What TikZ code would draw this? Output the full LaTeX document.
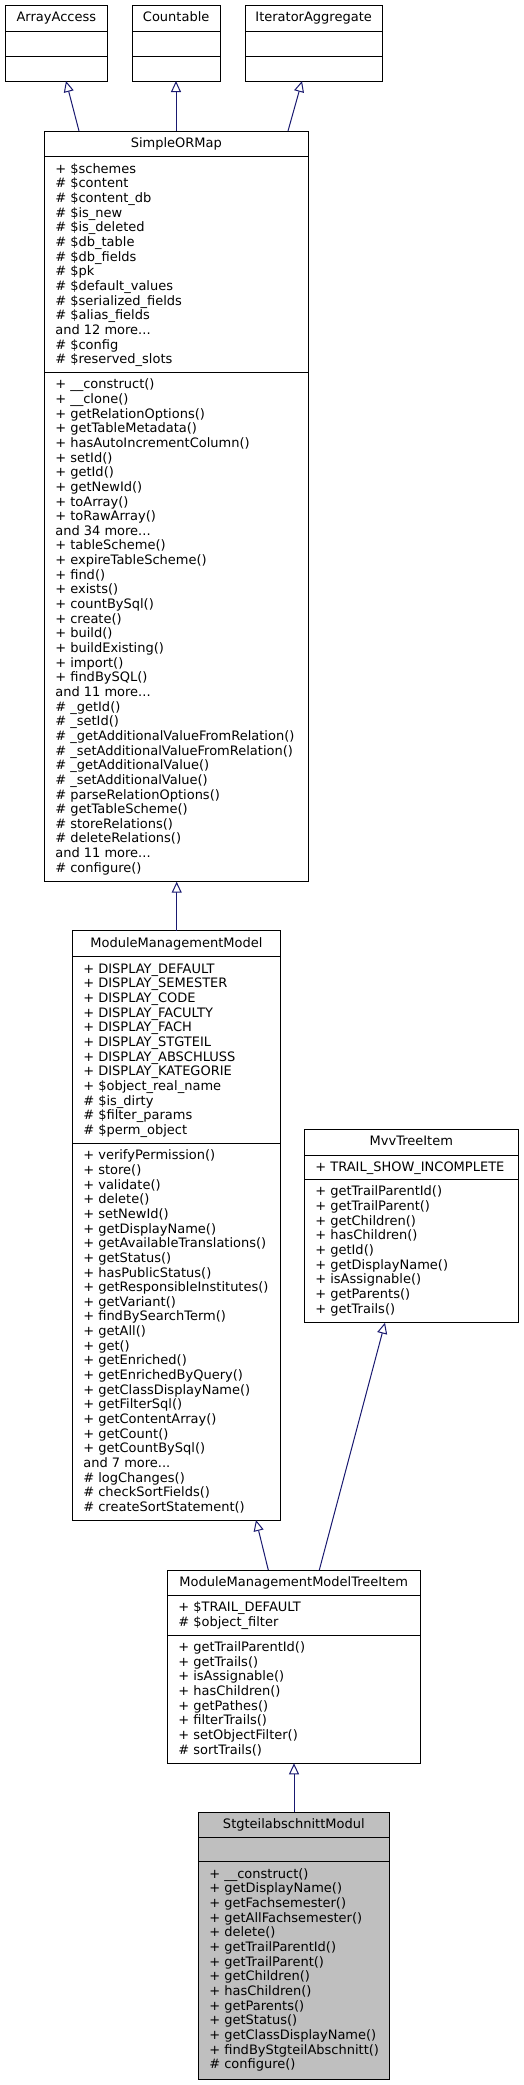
\documentclass[tikz,border=0pt]{standalone}
\usepackage{fontspec}
\setmainfont{DejaVu Sans}
\usetikzlibrary{arrows.meta}
\definecolor{edgeblue}{HTML}{191970}
\definecolor{boxgrey}{HTML}{BFBFBF}
\newcommand{\threedots}{...}
\tikzset{
  boxline/.style={draw=black, line width=0.9pt},
  txt/.style={anchor=base west, inner sep=0pt, font=\fontsize{13}{14.65}\selectfont},
  ttl/.style={anchor=base, inner sep=0pt, font=\fontsize{13}{14.65}\selectfont},
  inherit/.style={draw=edgeblue, line width=1pt, -{Triangle[open, length=11pt, width=10pt, fill=white]}},
}
% #1 name, #2 left, #3 right, #4 top, #5 div1, #6 div2, #7 bottom, #8 fill, #9 title
\newcommand{\classbox}[9]{%
  \node[boxline, fill=#8, anchor=north west, inner sep=0pt, outer sep=0pt,
        minimum width={(#3-#2)*1pt}, minimum height={(#7-#4)*1pt}] (#1) at (#2,#4) {};
  \draw[boxline] (#2,#5) -- (#3,#5);
  \draw[boxline] (#2,#6) -- (#3,#6);
  \node[ttl] (#1-title) at ({(#2+#3)/2},{#4+16.5}) {#9};
}
% #1 prefix, #2 left, #3 top, #4 list
\newcommand{\seclines}[4]{%
  \foreach \t [count=\i from 0] in {#4} {
    \node[txt] (#1\i) at ({#2+10.8},{#3+16.5+\i*14.65}) {\t};
  }
}
\begin{document}
\begin{tikzpicture}[x=1pt, y=-1pt]
\useasboundingbox (0,0) rectangle (523,2085);

% top interfaces
\classbox{aa}{5}{107.7}{5}{31.3}{56.7}{81}{white}{ArrayAccess}
\classbox{cnt}{132.3}{220}{5}{31.3}{56.7}{81}{white}{Countable}
\classbox{ia}{245}{382.3}{5}{31.3}{56.7}{81}{white}{IteratorAggregate}

% SimpleORMap
\classbox{som}{44.3}{308.3}{131}{156.7}{372.3}{881.7}{white}{SimpleORMap}
\seclines{soma}{44.3}{156.7}{+ \$schemes, \# \$content, \# \$content\_db, \# \$is\_new, \# \$is\_deleted, \# \$db\_table, \# \$db\_fields, \# \$pk, \# \$default\_values, \# \$serialized\_fields, \# \$alias\_fields, and 12 more\threedots, \# \$config, \# \$reserved\_slots}
\seclines{somm}{44.3}{372.3}{+ \_\_construct(), + \_\_clone(), + getRelationOptions(), + getTableMetadata(), + hasAutoIncrementColumn(), + setId(), + getId(), + getNewId(), + toArray(), + toRawArray(), and 34 more\threedots, + tableScheme(), + expireTableScheme(), + find(), + exists(), + countBySql(), + create(), + build(), + buildExisting(), + import(), + findBySQL(), and 11 more\threedots, \# \_getId(), \# \_setId(), \# \_getAdditionalValueFromRelation(), \# \_setAdditionalValueFromRelation(), \# \_getAdditionalValue(), \# \_setAdditionalValue(), \# parseRelationOptions(), \# getTableScheme(), \# storeRelations(), \# deleteRelations(), and 11 more\threedots, \# configure()}

% ModuleManagementModel
\classbox{mmm}{72.3}{280.5}{930.7}{956.7}{1143.3}{1520}{white}{ModuleManagementModel}
\seclines{mmma}{72.3}{956.7}{+ DISPLAY\_DEFAULT, + DISPLAY\_SEMESTER, + DISPLAY\_CODE, + DISPLAY\_FACULTY, + DISPLAY\_FACH, + DISPLAY\_STGTEIL, + DISPLAY\_ABSCHLUSS, + DISPLAY\_KATEGORIE, + \$object\_real\_name, \# \$is\_dirty, \# \$filter\_params, \# \$perm\_object}
\seclines{mmmm}{72.3}{1143.3}{+ verifyPermission(), + store(), + validate(), + delete(), + setNewId(), + getDisplayName(), + getAvailableTranslations(), + getStatus(), + hasPublicStatus(), + getResponsibleInstitutes(), + getVariant(), + findBySearchTerm(), + getAll(), + get(), + getEnriched(), + getEnrichedByQuery(), + getClassDisplayName(), + getFilterSql(), + getContentArray(), + getCount(), + getCountBySql(), and 7 more\threedots, \# logChanges(), \# checkSortFields(), \# createSortStatement()}

% MvvTreeItem
\classbox{mvv}{304.3}{518.3}{1129.3}{1155}{1179.3}{1322.7}{white}{MvvTreeItem}
\seclines{mvva}{304.3}{1155}{+ TRAIL\_SHOW\_INCOMPLETE}
\seclines{mvvm}{304.3}{1179.3}{+ getTrailParentId(), + getTrailParent(), + getChildren(), + hasChildren(), + getId(), + getDisplayName(), + isAssignable(), + getParents(), + getTrails()}

% ModuleManagementModelTreeItem
\classbox{mti}{167.3}{420}{1570}{1595}{1635}{1763.3}{white}{ModuleManagementModelTreeItem}
\seclines{mtia}{167.3}{1595}{+ \$TRAIL\_DEFAULT, \# \$object\_filter}
\seclines{mtim}{167.3}{1635}{+ getTrailParentId(), + getTrails(), + isAssignable(), + hasChildren(), + getPathes(), + filterTrails(), + setObjectFilter(), \# sortTrails()}

% StgteilabschnittModul
\classbox{stg}{198.3}{389.3}{1812.3}{1837.3}{1861.7}{2079}{boxgrey}{StgteilabschnittModul}
\seclines{stgm}{198.3}{1861.7}{+ \_\_construct(), + getDisplayName(), + getFachsemester(), + getAllFachsemester(), + delete(), + getTrailParentId(), + getTrailParent(), + getChildren(), + hasChildren(), + getParents(), + getStatus(), + getClassDisplayName(), + findByStgteilAbschnitt(), \# configure()}

% connector end points
\coordinate (aa-in) at (66,81);
\coordinate (cnt-in) at (176,81);
\coordinate (ia-in) at (302,81);
\coordinate (som-out1) at (79,131);
\coordinate (som-out2) at (176,131);
\coordinate (som-out3) at (288,131);
\coordinate (som-in) at (176.7,881.7);
\coordinate (mmm-out) at (176.7,930.7);
\coordinate (mmm-in) at (256,1520);
\coordinate (mvv-in) at (385,1322.7);
\coordinate (mti-out1) at (268.3,1570);
\coordinate (mti-out2) at (319.3,1570);
\coordinate (mti-in) at (294,1763.3);
\coordinate (stg-out) at (294,1812.3);

\draw[inherit] (som-out1) -- (aa-in);
\draw[inherit] (som-out2) -- (cnt-in);
\draw[inherit] (som-out3) -- (ia-in);
\draw[inherit] (mmm-out) -- (som-in);
\draw[inherit] (mti-out1) -- (mmm-in);
\draw[inherit] (mti-out2) -- (mvv-in);
\draw[inherit] (stg-out) -- (mti-in);
\end{tikzpicture}
\end{document}
